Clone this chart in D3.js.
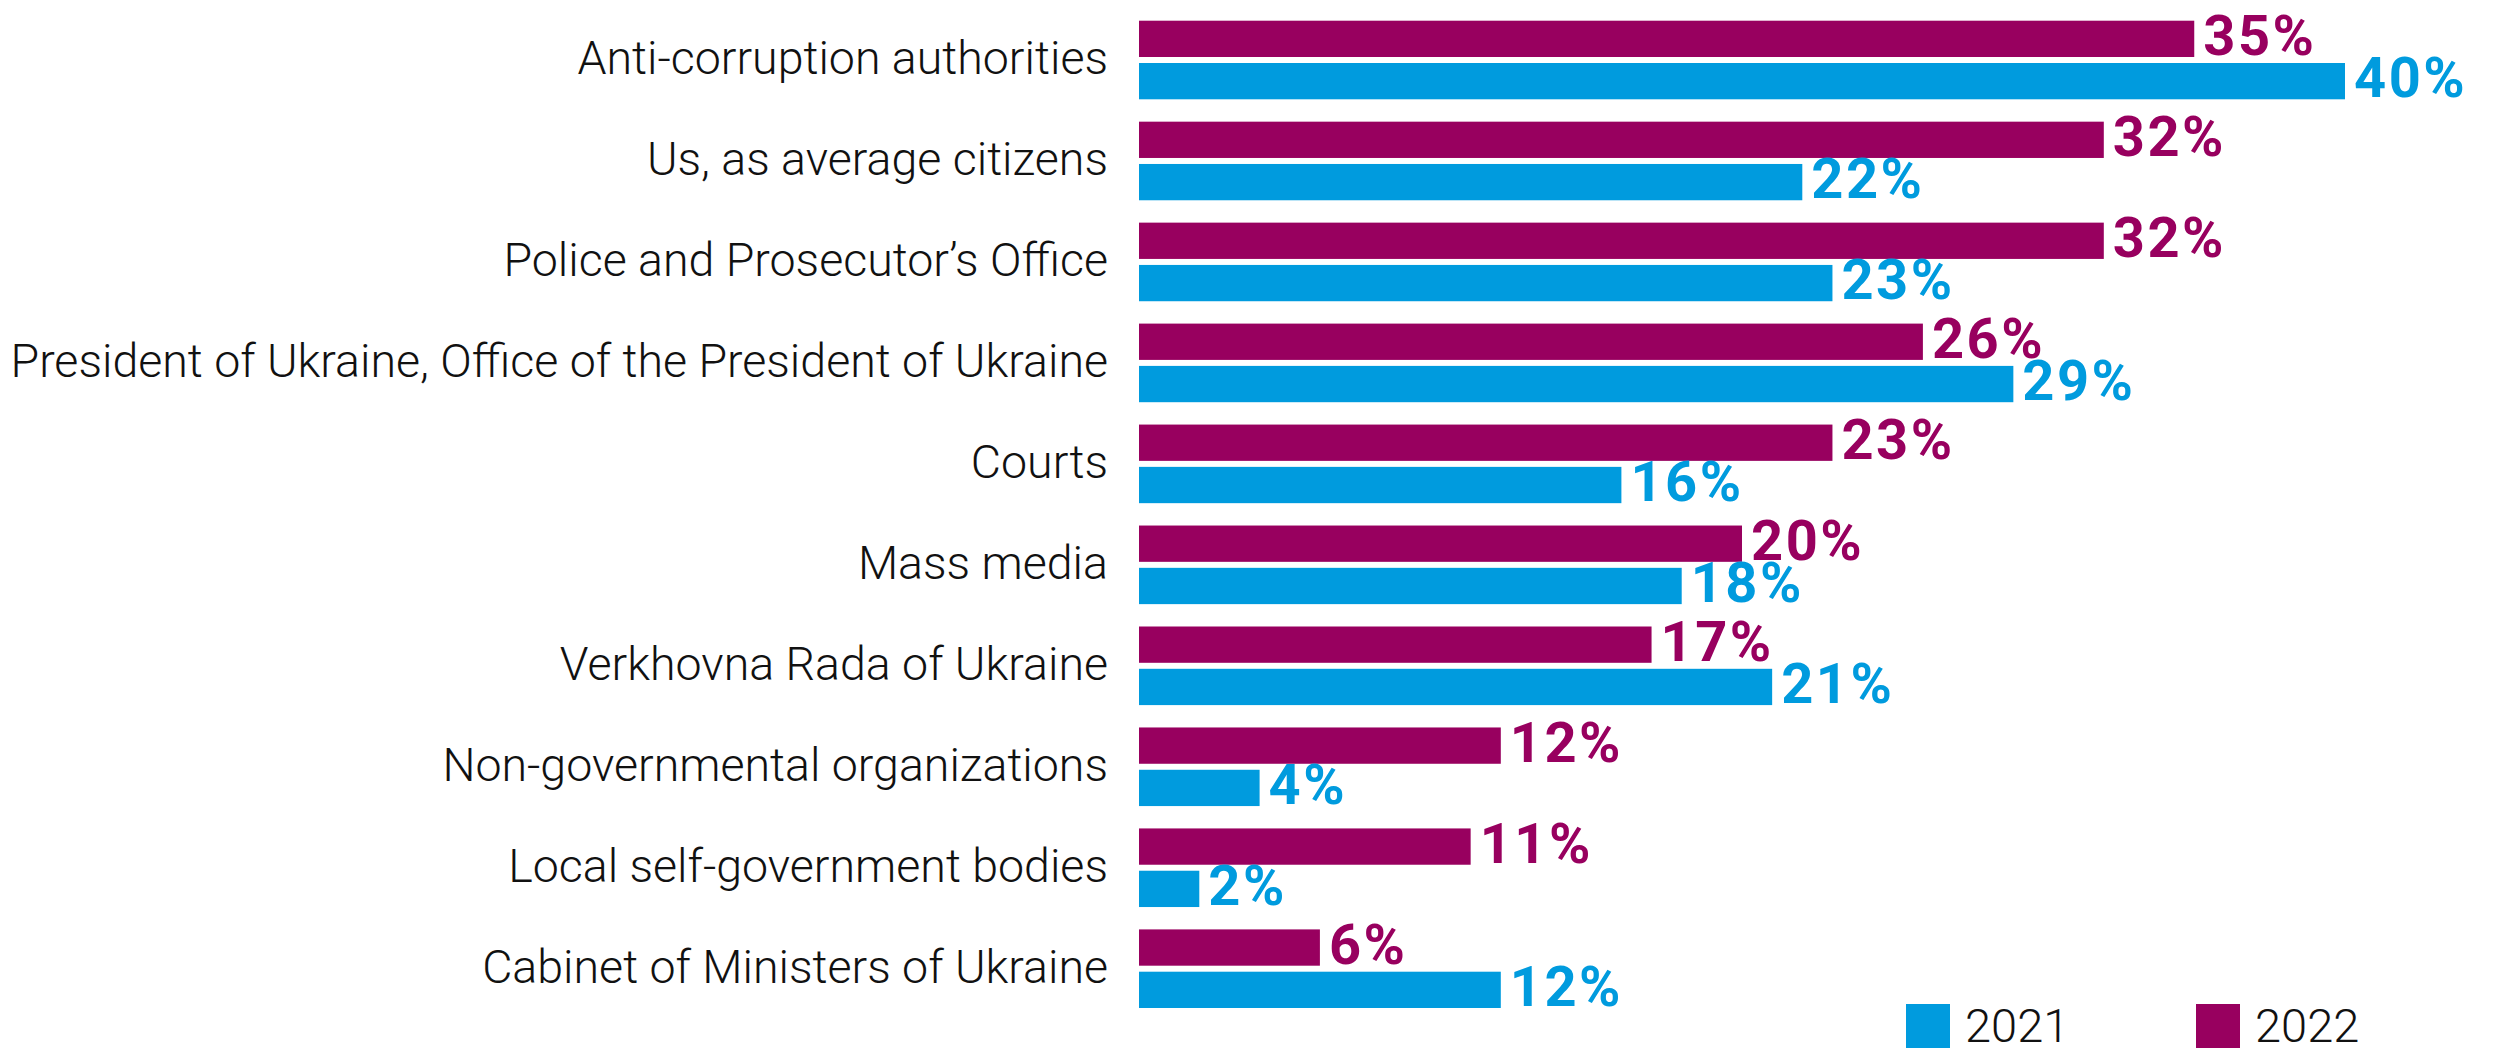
<!DOCTYPE html>
<html>
<head>
<meta charset="utf-8">
<script src="https://cdn.jsdelivr.net/npm/d3@7"></script>
<style>
  html, body { margin: 0; padding: 0; background: #ffffff; }
  svg { display: block; }
</style>
</head>
<body>
<svg id="chart" width="2504" height="1049"></svg>
<script>
const categories = [
  "Anti-corruption authorities",
  "Us, as average citizens",
  "Police and Prosecutor’s Office",
  "President of Ukraine, Office of the President of Ukraine",
  "Courts",
  "Mass media",
  "Verkhovna Rada of Ukraine",
  "Non-governmental organizations",
  "Local self-government bodies",
  "Cabinet of Ministers of Ukraine"
];
const values2022 = [35, 32, 32, 26, 23, 20, 17, 12, 11, 6];
const values2021 = [40, 22, 23, 29, 16, 18, 21, 4, 2, 12];
const seriesKeys = ["2022", "2021"];
const legendKeys = ["2021", "2022"];
const colors = { "2021": "#009BDE", "2022": "#98005F" };

const svg = d3.select("#chart");

const x = d3.scaleLinear().domain([0, 40]).range([1139, 2345]);
const y = d3.scaleBand().domain(categories).range([20.7, 1008]).paddingInner(0.2215).paddingOuter(0);
const ySub = d3.scaleBand().domain(seriesKeys).range([0, y.bandwidth()]).paddingInner(0.142).paddingOuter(0);

const rows = categories.map((c, i) => ({ cat: c, "2022": values2022[i], "2021": values2021[i] }));

// Category labels
const catFont = "Roboto, 'Open Sans', sans-serif";
svg.append("g").selectAll("text")
  .data(categories)
  .join("text")
  .attr("x", 1108)
  .attr("y", d => y(d) + y.bandwidth() / 2 + 14)
  .attr("text-anchor", "end")
  .attr("font-family", catFont)
  .attr("font-weight", 300)
  .attr("font-size", 46.5)
  .attr("fill", "#111")
  .text(d => d);

// Bars
const groups = svg.append("g").selectAll("g")
  .data(rows)
  .join("g")
  .attr("transform", d => `translate(0,${y(d.cat)})`);

groups.selectAll("rect")
  .data(d => seriesKeys.map(k => ({ key: k, value: d[k] })))
  .join("rect")
  .attr("x", x(0))
  .attr("y", d => ySub(d.key))
  .attr("width", d => x(d.value) - x(0))
  .attr("height", ySub.bandwidth())
  .attr("fill", d => colors[d.key]);

groups.selectAll("text")
  .data(d => seriesKeys.map(k => ({ key: k, value: d[k] })))
  .join("text")
  .attr("x", d => x(d.value) + 9)
  .attr("y", d => ySub(d.key) + ySub.bandwidth() / 2 + 16)
  .attr("font-family", "Roboto, sans-serif")
  .attr("font-weight", 700)
  .attr("font-size", 56)
  .attr("letter-spacing", 2.5)
  .attr("fill", d => colors[d.key])
  .text(d => d.value + "%");

// Legend
const legendX = { "2021": 1906, "2022": 2196 };
const legend = svg.append("g").selectAll("g")
  .data(legendKeys)
  .join("g")
  .attr("transform", d => `translate(${legendX[d]},1004)`);
legend.append("rect")
  .attr("width", 44).attr("height", 44)
  .attr("fill", d => colors[d]);
legend.append("text")
  .attr("x", 59)
  .attr("y", 38)
  .attr("font-family", catFont)
  .attr("font-weight", 300)
  .attr("font-size", 47)
  .attr("fill", "#111")
  .text(d => d);
</script>
</body>
</html>
